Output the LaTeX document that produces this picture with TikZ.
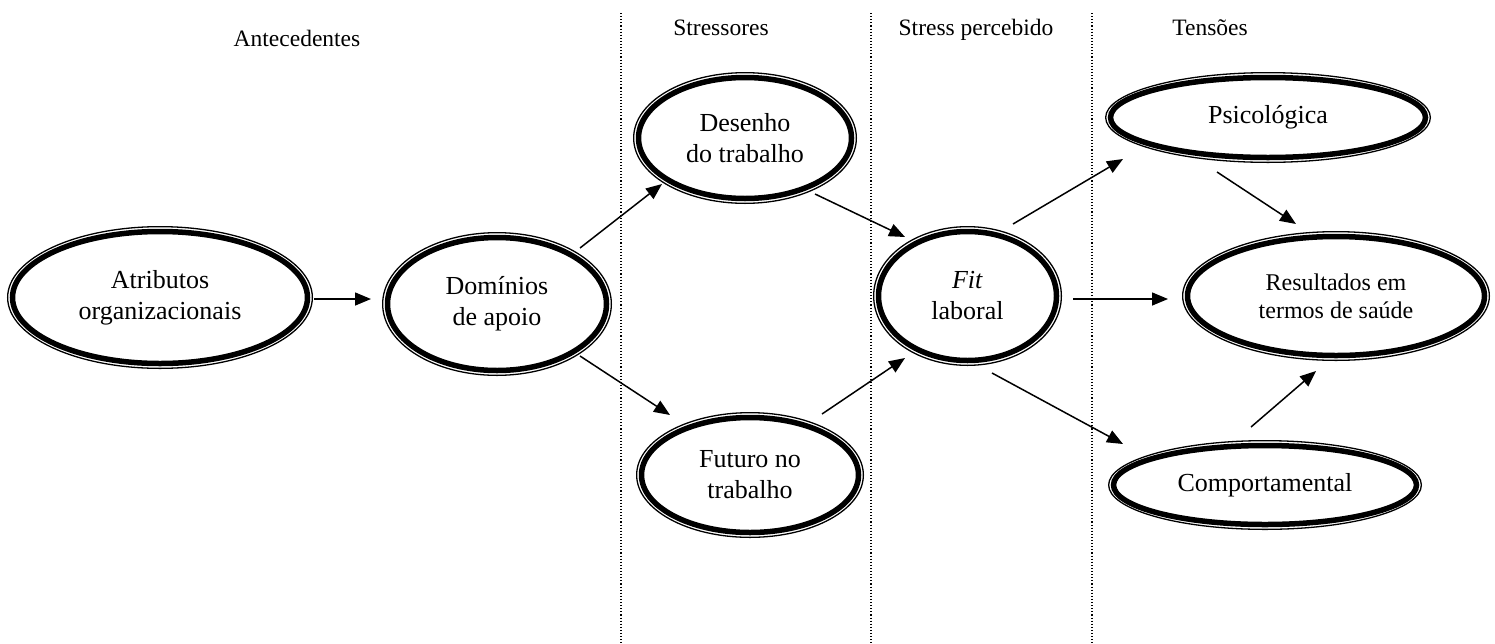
\documentclass[tikz,border=0pt]{standalone}
\usepackage{fontspec}
\setmainfont{Liberation Serif}
\usetikzlibrary{shapes.geometric,arrows.meta}

\newcommand\mainsize{\fontsize{26}{31}\selectfont}
\newcommand\smallsize{\fontsize{24}{28}\selectfont}
\newcommand\headsize{\fontsize{23.5}{28}\selectfont}

% [#1 extra options] #2 name, #3 x, #4 y, #5 outer x radius, #6 outer y radius, #7 label
\newcommand\bubblenode[7][]{%
  \node[bubble, minimum width={2*(#5-5.5)}, minimum height={2*(#6-5.5)}, #1] (#2) at (#3,#4) {#7};
  \draw[rim] (#2.center) ellipse [x radius={#5-0.65}, y radius={#6-0.65}];
}

\tikzset{
  bubble/.style={ellipse, draw, line width=5.5pt, inner sep=0pt, align=center, font=\mainsize},
  rim/.style={line width=1.3pt},
  arr/.style={line width=1.5pt, -{Triangle[length=16pt,width=13pt]}},
  divider/.style={line width=1.1pt, dash pattern=on 1.1pt off 2pt},
  heading/.style={anchor=base, font=\headsize},
}

\begin{document}
\begin{tikzpicture}[x=1pt,y=-1pt]
\useasboundingbox (0,0) rectangle (1495,643);

% column dividers
\coordinate (d1t) at (621,13);  \coordinate (d1b) at (621,643);
\coordinate (d2t) at (871,13);  \coordinate (d2b) at (871,643);
\coordinate (d3t) at (1092,13); \coordinate (d3b) at (1092,643);
\draw[divider] (d1t) -- (d1b);
\draw[divider] (d2t) -- (d2b);
\draw[divider] (d3t) -- (d3b);

% column headings
\node[heading] (h1) at (297,46) {Antecedentes};
\node[heading] (h2) at (721,35) {Stressores};
\node[heading] (h3) at (976,35) {Stress percebido};
\node[heading] (h4) at (1210,35) {Tensões};

% constructs
\bubblenode{A}{160}{297.5}{153}{71.5}{Atributos\\organizacionais}
\bubblenode{D}{497}{304}{115}{72}{Domínios\\de apoio}
\bubblenode{De}{745}{138}{112}{66}{Desenho\\do trabalho}
\bubblenode{F}{750}{475}{114}{63}{Futuro no\\trabalho}
\bubblenode{Fi}{967.5}{296}{94.5}{70}{\textit{Fit}\\laboral}
\bubblenode{P}{1268}{117.5}{163}{45.5}{Psicológica}
\bubblenode[font=\smallsize]{R}{1336}{296}{154}{65}{Resultados em\\termos de saúde}
\bubblenode{C}{1265}{485}{157}{45}{Comportamental}

% paths
\draw[arr] ([shift={(154,1.5)}]A.center) -- ([shift={(-126,-5)}]D.center);
\draw[arr] ([shift={(83,-56)}]D.center) -- ([shift={(-83,46)}]De.center);
\draw[arr] ([shift={(83,52)}]D.center) -- ([shift={(-80,-60)}]F.center);
\draw[arr] ([shift={(70,56)}]De.center) -- ([shift={(-62.5,-59)}]Fi.center);
\draw[arr] ([shift={(72,-61)}]F.center) -- ([shift={(-62.5,62)}]Fi.center);
\draw[arr] ([shift={(45.5,-72)}]Fi.center) -- ([shift={(-145,41.5)}]P.center);
\draw[arr] ([shift={(105.5,3)}]Fi.center) -- ([shift={(-168,3)}]R.center);
\draw[arr] ([shift={(24.5,77)}]Fi.center) -- ([shift={(-142,-41)}]C.center);
\draw[arr] ([shift={(-51,54.5)}]P.center) -- ([shift={(-40,-72)}]R.center);
\draw[arr] ([shift={(-14,-58)}]C.center) -- ([shift={(-20,75)}]R.center);
\end{tikzpicture}
\end{document}
